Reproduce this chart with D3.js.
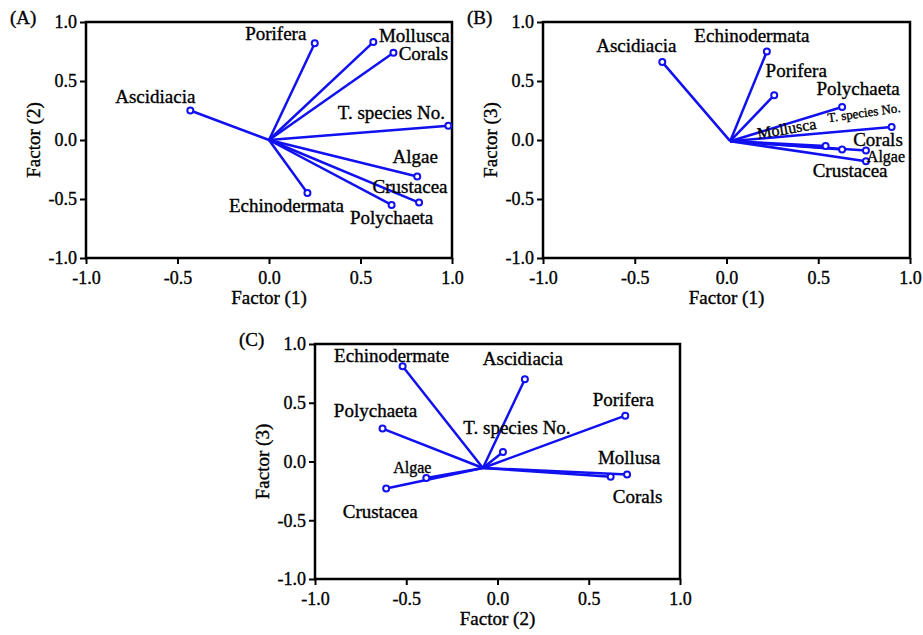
<!DOCTYPE html>
<html>
<head>
<meta charset="utf-8">
<script src="https://cdn.jsdelivr.net/npm/d3@7"></script>
<style>
  body { margin: 0; background: #fff; }
  svg text { stroke: #000; stroke-width: 0.35px; }
</style>
</head>
<body>
<div id="chart"></div>
<script>
// factor loadings, one set per panel
const namesA = ["Porifera", "Mollusca", "Corals", "T. species No.", "Ascidiacia", "Algae", "Crustacea", "Polychaeta", "Echinodermata"];
const factor1A = [0.25, 0.57, 0.68, 0.98, -0.43, 0.81, 0.82, 0.67, 0.21];
const factor2A = [0.82, 0.83, 0.74, 0.12, 0.25, -0.31, -0.53, -0.55, -0.45];
const originA = [0, 0];

const namesB = ["Ascidiacia", "Echinodermata", "Porifera", "Polychaeta", "T. species No.", "Mollusca", "Crustacea", "Corals", "Algae"];
const factor1B = [-0.35, 0.22, 0.26, 0.63, 0.90, 0.54, 0.63, 0.76, 0.76];
const factor3B = [0.66, 0.75, 0.38, 0.28, 0.11, -0.05, -0.08, -0.09, -0.18];
const originB = [0.02, -0.01];

const namesC = ["Echinodermate", "Ascidiacia", "Porifera", "Polychaeta", "T. species No.", "Mollusa", "Corals", "Algae", "Crustacea"];
const factor2C = [-0.52, 0.15, 0.70, -0.63, 0.03, 0.71, 0.62, -0.39, -0.61];
const factor3C = [0.81, 0.70, 0.39, 0.28, 0.08, -0.11, -0.13, -0.14, -0.23];
const originC = [-0.08, -0.055];

const ticks = [-1, -0.5, 0, 0.5, 1];

// label placement: [dx, dy, font size, rotation] relative to the end point
const labelsA = {
  "Porifera": [-39, -3], "Mollusca": [41, 0], "Corals": [30, 7], "T. species No.": [-57, -7],
  "Ascidiacia": [-35, -8], "Algae": [-2, -14], "Crustacea": [-9, -10], "Polychaeta": [0, 19],
  "Echinodermata": [-21, 19]
};
const labelsB = {
  "Ascidiacia": [-26, -10], "Echinodermata": [-15, -10], "Porifera": [22, -18], "Polychaeta": [16, -12],
  "T. species No.": [-27, -10, 13, -8], "Mollusca": [-38, -12, 16, -10], "Corals": [12, -5],
  "Algae": [20, 1, 16], "Crustacea": [8, 28]
};
const labelsC = {
  "Echinodermate": [-11, -4], "Ascidiacia": [-2, -14], "Porifera": [-2, -10], "Polychaeta": [-7, -12],
  "T. species No.": [14, -18], "Mollusa": [2, -10], "Corals": [27, 26], "Algae": [-14, -5, 16],
  "Crustacea": [-6, 29]
};

const W = 923, H = 635;
const serif = "Liberation Serif";
const svg = d3.select("#chart").append("svg")
  .attr("width", W).attr("height", H)
  .style("font-family", serif);

const blue = "#1010f0";

function panel(tag, names, xs, ys, origin, labels, box, xTitle, yTitle) {
  const x = d3.scaleLinear().domain([-1, 1]).range([box.left, box.right]);
  const y = d3.scaleLinear().domain([-1, 1]).range([box.bottom, box.top]);
  const g = svg.append("g");

  g.append("rect")
    .attr("x", box.left).attr("y", box.top)
    .attr("width", box.right - box.left).attr("height", box.bottom - box.top)
    .attr("fill", "none").attr("stroke", "#000").attr("stroke-width", 2.5);

  const fmt = d => d.toFixed(1);
  const xa = g.append("g").attr("transform", `translate(0,${box.bottom})`)
    .call(d3.axisBottom(x).tickValues(ticks).tickFormat(fmt).tickSize(6).tickPadding(7));
  const ya = g.append("g").attr("transform", `translate(${box.left},0)`)
    .call(d3.axisLeft(y).tickValues(ticks).tickFormat(fmt).tickSize(6).tickPadding(3));
  [xa, ya].forEach(a => {
    a.attr("font-family", null).attr("font-size", 18);
    a.select(".domain").remove();
    a.selectAll("line").attr("stroke", "#000").attr("stroke-width", 2);
    a.selectAll("text").attr("fill", "#000");
  });

  g.append("text")
    .attr("x", (box.left + box.right) / 2).attr("y", box.bottom + 46)
    .attr("text-anchor", "middle").attr("font-size", 19)
    .text(xTitle);
  g.append("text")
    .attr("transform", `translate(${box.left - 46},${(box.top + box.bottom) / 2}) rotate(-90)`)
    .attr("text-anchor", "middle").attr("font-size", 19)
    .text(yTitle);
  g.append("text")
    .attr("x", box.left - 76).attr("y", box.top + 2)
    .attr("font-size", 19)
    .text(tag);

  const ox = x(origin[0]), oy = y(origin[1]);
  const pts = names.map((n, i) => ({ name: n, x: xs[i], y: ys[i] }));

  g.selectAll(".ray").data(pts).join("line")
    .attr("x1", ox).attr("y1", oy)
    .attr("x2", d => x(d.x)).attr("y2", d => y(d.y))
    .attr("stroke", blue).attr("stroke-width", 2.5);

  g.selectAll(".pt").data(pts).join("circle")
    .attr("cx", d => x(d.x)).attr("cy", d => y(d.y))
    .attr("r", 3).attr("fill", "#fff")
    .attr("stroke", blue).attr("stroke-width", 2);

  g.selectAll(".lab").data(pts).join("text")
    .attr("text-anchor", "middle")
    .attr("font-size", d => labels[d.name][2] || 19)
    .attr("transform", d => {
      const l = labels[d.name];
      return `translate(${x(d.x) + l[0]},${y(d.y) + l[1]}) rotate(${l[3] || 0})`;
    })
    .text(d => d.name);
}

panel("(A)", namesA, factor1A, factor2A, originA, labelsA,
  { left: 86, right: 452, top: 22, bottom: 258 }, "Factor (1)", "Factor (2)");
panel("(B)", namesB, factor1B, factor3B, originB, labelsB,
  { left: 543, right: 910, top: 22, bottom: 258 }, "Factor (1)", "Factor (3)");
panel("(C)", namesC, factor2C, factor3C, originC, labelsC,
  { left: 315, right: 680, top: 344, bottom: 579 }, "Factor (2)", "Factor (3)");
</script>
</body>
</html>
